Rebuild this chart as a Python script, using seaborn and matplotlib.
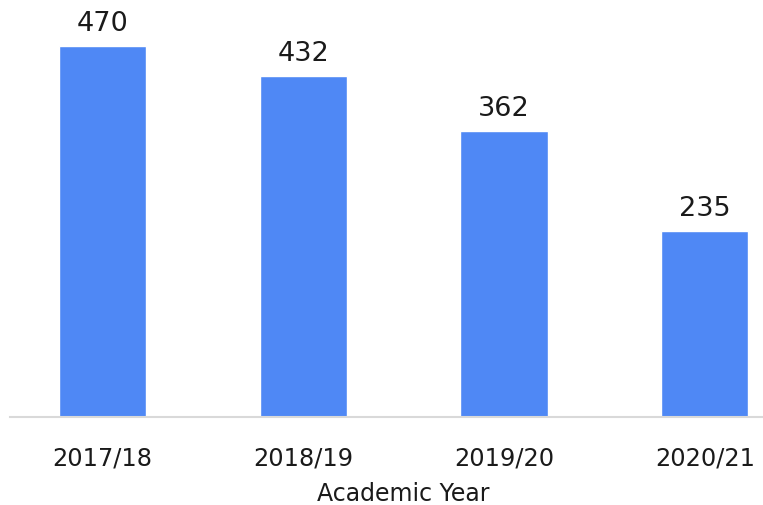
import matplotlib
matplotlib.use("Agg")
import matplotlib.pyplot as plt
import seaborn as sns
import pandas as pd

years = ["2017/18", "2018/19", "2019/20", "2020/21"]
counts = [470, 432, 362, 235]

sns.set_theme(style="white")
plt.rcParams['font.family'] = ['DejaVu Sans']

df = pd.DataFrame({"year": years, "count": counts})

fig = plt.figure(figsize=(7.63, 5.06), dpi=100)
ax = fig.add_axes([10/763, (506-417.5)/506, 753/763, 417.5/506])

sns.barplot(data=df, x="year", y="count", color="#4f88f5", saturation=1,
            width=0.434, ax=ax)

ax.set_xlim(-0.461, 3.29)
ax.set_ylim(0, 529)

for c in ax.containers:
    ax.bar_label(c, padding=7, fontsize=19.5, color="#1a1a1a")

ax.set_yticks([])
ax.set_ylabel("")
ax.set_xlabel("Academic Year", fontsize=17, color="#1a1a1a")
ax.xaxis.set_label_coords((403.5 - 10) / 753, -65 / 417.5)
ax.tick_params(axis="x", length=0, pad=21, labelsize=17.3, labelcolor="#1a1a1a")

for s in ["top", "right", "left"]:
    ax.spines[s].set_visible(False)
ax.spines["bottom"].set_color("#d9d9d9")
ax.spines["bottom"].set_linewidth(1.5)

fig.savefig("out.png", dpi=100)
